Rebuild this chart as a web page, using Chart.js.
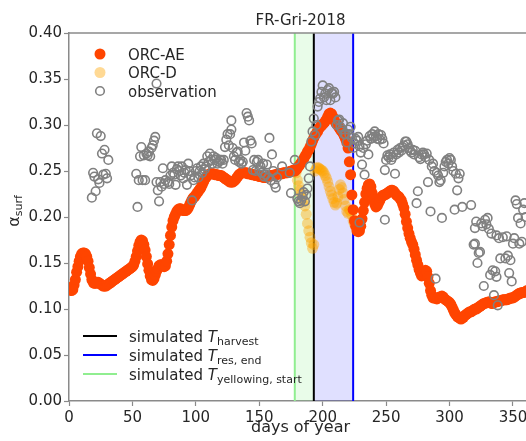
<!DOCTYPE html>
<html>
<head>
<meta charset="utf-8">
<script src="https://cdn.jsdelivr.net/npm/chart.js@4.4.1/dist/chart.umd.min.js"></script>
<style>
html,body{margin:0;padding:0;overflow:hidden;background:#fff;width:526px;height:441px}
#wrap{position:absolute;left:0;top:0;width:540px;height:441px}
</style>
</head>
<body>
<div id="wrap"><canvas id="c" width="540" height="441"></canvas></div>
<script>
// ---------------- data ----------------
const chartTitle = "FR-Gri-2018";
const xTickValues = [0, 50, 100, 150, 200, 250, 300, 350];
const yTickValues = [0, 0.05, 0.10, 0.15, 0.20, 0.25, 0.30, 0.35, 0.40];
const xAxisTitle = "days of year";

// simulated event days
const yellowStartDay = 178;
const harvestDay = 193;
const residueEndDay = 224;

// ORC-AE: one value per day, starting at day 0
const aeStartDay = 0;
const aeValues = [
0.123,0.121,0.120,0.121,0.126,0.132,0.140,0.146,0.152,0.157,
0.160,0.161,0.161,0.160,0.157,0.152,0.145,0.138,0.132,0.129,
0.128,0.128,0.129,0.129,0.128,0.127,0.126,0.125,0.125,0.125,
0.126,0.127,0.128,0.129,0.130,0.131,0.132,0.133,0.134,0.135,
0.136,0.137,0.138,0.139,0.140,0.141,0.142,0.143,0.144,0.145,
0.146,0.148,0.152,0.157,0.163,0.169,0.173,0.175,0.174,0.170,
0.164,0.157,0.149,0.142,0.136,0.132,0.131,0.133,0.137,0.141,
0.144,0.147,0.148,0.148,0.147,0.146,0.147,0.152,0.160,0.170,
0.180,0.189,0.196,0.200,0.203,0.206,0.208,0.209,0.209,0.208,
0.207,0.207,0.207,0.208,0.210,0.213,0.216,0.219,0.221,0.222,
0.224,0.226,0.228,0.230,0.232,0.235,0.238,0.241,0.243,0.245,
0.246,0.247,0.247,0.247,0.247,0.246,0.246,0.246,0.245,0.245,
0.245,0.244,0.243,0.242,0.241,0.240,0.239,0.238,0.238,0.238,
0.239,0.240,0.242,0.244,0.246,0.247,0.248,0.248,0.248,0.248,
0.248,0.247,0.247,0.247,0.246,0.246,0.246,0.245,0.245,0.245,
0.244,0.244,0.244,0.243,0.243,0.243,0.243,0.244,0.244,0.245,
0.245,0.245,0.246,0.246,0.246,0.247,0.247,0.247,0.247,0.248,
0.248,0.248,0.248,0.249,0.249,0.250,0.250,0.251,0.250,0.251,
0.253,0.255,0.257,0.259,0.261,0.263,0.266,0.268,0.271,0.273,
0.276,0.279,0.283,0.286,0.289,0.291,0.293,0.296,0.298,0.299,
0.301,0.302,0.304,0.306,0.309,0.312,0.313,0.312,0.309,0.306,
0.303,0.301,0.299,0.297,0.295,0.293,0.291,0.288,0.285,0.281,
0.275,0.260,0.246,0.224,0.208,0.196,0.190,0.185,0.184,0.185,
0.190,0.198,0.207,0.216,0.225,0.231,0.235,0.236,0.233,0.226,
0.219,0.214,0.211,0.212,0.215,0.218,0.221,0.223,0.224,0.224,
0.225,0.226,0.227,0.228,0.229,0.229,0.228,0.226,0.224,0.223,
0.222,0.220,0.218,0.214,0.210,0.203,0.195,0.188,0.182,0.177,
0.173,0.170,0.165,0.159,0.153,0.148,0.143,0.139,0.136,0.137,
0.140,0.142,0.141,0.135,0.128,0.120,0.115,0.112,0.112,0.112,
0.111,0.112,0.113,0.113,0.114,0.113,0.111,0.110,0.109,0.108,
0.107,0.105,0.102,0.099,0.096,0.094,0.092,0.091,0.090,0.089,
0.090,0.091,0.093,0.094,0.095,0.096,0.097,0.097,0.098,0.099,
0.100,0.100,0.101,0.102,0.103,0.104,0.105,0.106,0.106,0.107,
0.107,0.108,0.107,0.106,0.106,0.107,0.108,0.108,0.108,0.109,
0.109,0.109,0.110,0.110,0.110,0.110,0.111,0.111,0.112,0.112,
0.112,0.113,0.114,0.115,0.116,0.117,0.117,0.118,0.118,0.118,
0.119,0.120,0.120,0.120,0.121,0.121
];

// ORC-D where it departs from ORC-AE
const dDays = [178,179,180,181,182,183,184,185,186,187,188,189,190,191,192,193,
  194,195,196,197,198,199,200,201,202,203,204,205,206,207,208,209,210,
  211,212,213,214,215,216,217,218,219,220,221,222,223,224,225];
const dValues = [0.250,0.248,0.240,0.234,0.229,0.225,0.221,0.217,0.212,0.203,0.193,0.185,0.178,0.172,0.166,0.170,
  0.250,0.253,0.254,0.253,0.252,0.251,0.250,0.248,0.245,0.242,0.238,0.233,0.228,0.224,0.220,0.216,0.213,
  0.215,0.222,0.230,0.235,0.232,0.226,0.219,0.212,0.206,0.204,0.208,0.207,0.202,0.196,0.192];

// observations
const obsDays = [18,19,20,21,22,23,24,25,26,27,28,29,30,31,
 53,54,55,56,57,58,59,60,61,62,63,64,65,66,67,68,69,69,70,71,72,73,74,75,76,78,79,80,
 81,82,83,84,85,86,87,88,89,90,91,92,93,94,95,96,97,98,99,100,
 101,102,103,104,105,106,107,108,109,110,111,112,113,114,115,116,117,118,119,120,
 121,122,123,124,125,126,127,128,128,129,130,131,132,133,134,135,136,137,138,139,140,
 141,142,143,144,145,146,147,148,149,150,151,152,153,154,155,156,157,158,159,160,
 161,162,163,164,168,174,175,178,180,181,182,183,184,185,186,187,188,189,190,
 191,192,193,194,195,196,197,198,199,200,201,202,203,204,205,206,207,208,209,210,
 211,212,213,214,215,216,217,218,219,220,221,222,223,224,225,226,227,228,229,229,230,
 231,232,233,234,235,236,237,238,239,240,241,242,243,244,245,246,247,248,249,249,250,
 251,252,253,254,255,256,257,258,259,260,261,262,263,264,265,266,267,268,269,270,
 271,272,273,274,275,276,277,278,279,280,281,282,283,284,285,286,287,288,289,290,
 291,292,293,294,295,296,297,298,299,300,301,302,303,304,305,306,307,308,310,317,
 319,320,320,321,322,323,324,325,326,327,328,329,330,331,332,333,334,335,336,337,337,
 338,339,340,342,344,345,346,347,348,349,350,351,352,353,354,355,356,357,358,359,360];
const obsValues = [0.221,0.248,0.244,0.228,0.291,0.241,0.237,0.288,0.269,0.246,0.273,0.247,0.242,0.262,
 0.247,0.211,0.240,0.266,0.276,0.240,0.267,0.240,0.269,0.267,0.271,0.266,0.275,0.278,0.283,0.287,0.345,0.238,0.229,0.217,0.238,0.233,0.253,0.236,0.240,0.238,0.236,0.245,
 0.255,0.248,0.246,0.235,0.252,0.255,0.250,0.245,0.255,0.242,0.248,0.251,0.235,0.258,0.250,0.245,0.218,0.240,0.243,0.250,
 0.253,0.243,0.250,0.255,0.248,0.258,0.252,0.255,0.266,0.260,0.269,0.262,0.258,0.266,0.262,0.264,0.258,0.260,0.262,0.262,
 0.258,0.262,0.276,0.284,0.290,0.278,0.290,0.305,0.295,0.275,0.266,0.262,0.270,0.271,0.260,0.262,0.258,0.260,0.281,0.272,0.313,
 0.309,0.305,0.283,0.280,0.251,0.262,0.250,0.260,0.262,0.251,0.255,0.248,0.258,0.244,0.246,0.257,0.243,0.286,0.240,0.268,
 0.250,0.236,0.232,0.243,0.255,0.248,0.226,0.262,0.220,0.217,0.215,0.218,0.222,0.227,0.217,0.224,0.231,0.242,0.255,
 0.282,0.293,0.307,0.289,0.300,0.320,0.325,0.329,0.336,0.343,0.330,0.334,0.327,0.338,0.340,0.327,0.335,0.334,0.336,0.330,
 0.300,0.305,0.306,0.298,0.295,0.302,0.290,0.290,0.281,0.295,0.290,0.298,0.286,0.275,0.280,0.285,0.283,0.287,0.277,0.194,0.270,
 0.257,0.275,0.246,0.279,0.283,0.268,0.288,0.285,0.290,0.287,0.293,0.288,0.285,0.290,0.284,0.289,0.285,0.280,0.251,0.197,0.262,
 0.267,0.265,0.268,0.262,0.265,0.270,0.247,0.268,0.273,0.270,0.275,0.272,0.276,0.278,0.282,0.282,0.279,0.275,0.272,0.270,
 0.273,0.268,0.272,0.215,0.228,0.265,0.263,0.268,0.270,0.268,0.265,0.269,0.238,0.262,0.206,0.255,0.258,0.250,0.133,0.248,
 0.245,0.238,0.240,0.199,0.248,0.255,0.260,0.262,0.258,0.264,0.262,0.255,0.250,0.208,0.247,0.229,0.242,0.247,0.211,0.213,
 0.170,0.188,0.171,0.195,0.150,0.161,0.162,0.193,0.190,0.125,0.197,0.192,0.199,0.187,0.137,0.182,0.142,0.115,0.141,0.180,0.135,
 0.104,0.177,0.155,0.178,0.155,0.179,0.158,0.139,0.153,0.130,0.171,0.177,0.218,0.214,0.199,0.171,0.193,0.173,0.208,0.215,0.200];

const seriesNames = ["ORC-AE", "ORC-D", "observation"];
const eventNames = ["harvest", "res, end", "yellowing, start"];

// ---------------- build ----------------
const FONT = "'DejaVu Sans', 'Liberation Sans', sans-serif";
const aePts = aeValues.map((v, i) => ({x: aeStartDay + i, y: v}));
const dPts = dDays.map((d, i) => ({x: d, y: dValues[i]}));
const obsPts = obsDays.map((d, i) => ({x: d, y: obsValues[i]}));

const C_AE = '#ff4500', C_D = 'rgba(255,165,0,0.42)', C_OBS = '#808080';
const SPINE = '#8a8a8a';

const decor = {
  id: 'decor',
  beforeDatasetsDraw(chart) {
    const {ctx, chartArea: a, scales: {x}} = chart;
    ctx.save();
    ctx.beginPath(); ctx.rect(a.left, a.top, a.right - a.left, a.bottom - a.top); ctx.clip();
    const xs = x.getPixelForValue(yellowStartDay), xh = x.getPixelForValue(harvestDay), xr = x.getPixelForValue(residueEndDay);
    ctx.fillStyle = 'rgba(144,238,144,0.2)'; ctx.fillRect(xs, a.top, xh - xs, a.bottom - a.top);
    ctx.fillStyle = 'rgba(0,0,255,0.12)'; ctx.fillRect(xh, a.top, xr - xh, a.bottom - a.top);
    const vline = (px, col) => { ctx.strokeStyle = col; ctx.lineWidth = 2; ctx.beginPath(); ctx.moveTo(px, a.top); ctx.lineTo(px, a.bottom); ctx.stroke(); };
    vline(xs, '#90ee90'); vline(xh, '#000000'); vline(xr, '#0000ff');
    ctx.restore();
  },
  afterDraw(chart) {
    const {ctx, chartArea: a} = chart;
    ctx.save();
    // top spine
    ctx.strokeStyle = SPINE; ctx.lineWidth = 1.5;
    ctx.beginPath(); ctx.moveTo(a.left, a.top); ctx.lineTo(a.right, a.top); ctx.stroke();
    ctx.fillStyle = '#262626';
    // title
    ctx.font = '15px ' + FONT; ctx.textAlign = 'center'; ctx.textBaseline = 'alphabetic';
    ctx.fillText(chartTitle, (a.left + a.right) / 2, 25);
    // x title
    ctx.font = '16px ' + FONT;
    ctx.fillText(xAxisTitle, (a.left + a.right) / 2, 432);
    // y title: alpha_surf
    ctx.save();
    ctx.translate(19, 211); ctx.rotate(-Math.PI / 2);
    ctx.textAlign = 'left';
    ctx.font = '16px ' + FONT; const wA = ctx.measureText('α').width;
    ctx.font = '11px ' + FONT; const wS = ctx.measureText('surf').width;
    const x0 = -(wA + wS) / 2;
    ctx.font = '16px ' + FONT; ctx.fillText('α', x0, 0);
    ctx.font = '11px ' + FONT; ctx.fillText('surf', x0 + wA, 3);
    ctx.restore();

    // top legend (markers)
    ctx.textAlign = 'left'; ctx.font = '15px ' + FONT;
    const ly = [54, 72.5, 91];
    ctx.fillStyle = C_AE; ctx.beginPath(); ctx.arc(100, ly[0], 5.5, 0, Math.PI * 2); ctx.fill();
    ctx.fillStyle = C_D; ctx.beginPath(); ctx.arc(100, ly[1], 5.5, 0, Math.PI * 2); ctx.fill();
    ctx.strokeStyle = C_OBS; ctx.lineWidth = 1.6; ctx.beginPath(); ctx.arc(100, ly[2], 4.3, 0, Math.PI * 2); ctx.stroke();
    ctx.fillStyle = '#262626';
    seriesNames.forEach((n, i) => ctx.fillText(n, 128, ly[i] + 5.5));

    // bottom legend (lines)
    const by = [336, 355, 374];
    const cols = ['#000000', '#0000ff', '#90ee90'];
    by.forEach((yy, i) => {
      ctx.strokeStyle = cols[i]; ctx.lineWidth = 2;
      ctx.beginPath(); ctx.moveTo(83, yy); ctx.lineTo(117, yy); ctx.stroke();
      let tx = 129;
      ctx.fillStyle = '#262626';
      ctx.font = '15px ' + FONT; ctx.fillText('simulated ', tx, yy + 5.5); tx += ctx.measureText('simulated ').width;
      ctx.font = 'italic 15px ' + FONT; ctx.fillText('T', tx, yy + 5.5); tx += ctx.measureText('T').width;
      ctx.font = '11px ' + FONT; ctx.fillText(eventNames[i], tx, yy + 8.5);
    });
    ctx.restore();
  }
};

new Chart(document.getElementById('c'), {
  type: 'scatter',
  data: {
    datasets: [
      {label: seriesNames[0], data: aePts, backgroundColor: C_AE, borderColor: C_AE, borderWidth: 0, pointRadius: 5.5, order: 2},
      {label: seriesNames[1], data: dPts, backgroundColor: C_D, borderColor: C_D, borderWidth: 0, pointRadius: 5.5, order: 3},
      {label: seriesNames[2], data: obsPts, backgroundColor: 'rgba(0,0,0,0)', borderColor: C_OBS, borderWidth: 1.6, pointRadius: 4.3, order: 1}
    ]
  },
  options: {
    responsive: false, animation: false, devicePixelRatio: 1, events: [],
    layout: {padding: {left: 0, top: 33, right: 8, bottom: 0}},
    plugins: {legend: {display: false}, tooltip: {enabled: false}, title: {display: false}},
    scales: {
      x: {
        type: 'linear', min: 0, max: 365,
        afterBuildTicks: s => { s.ticks = xTickValues.map(v => ({value: v})); },
        afterFit: s => { s.height = 40; },
        ticks: {font: {size: 15, family: FONT}, color: '#262626', padding: 3, maxRotation: 0, autoSkip: false},
        grid: {drawOnChartArea: false, tickLength: 5, tickColor: SPINE, tickWidth: 1.2},
        border: {color: SPINE, width: 1.5},
        title: {display: false}
      },
      y: {
        type: 'linear', min: 0, max: 0.4,
        afterBuildTicks: s => { s.ticks = yTickValues.map(v => ({value: v})); },
        afterFit: s => { s.width = 69; },
        ticks: {font: {size: 15, family: FONT}, color: '#262626', padding: 2, callback: v => v.toFixed(2)},
        grid: {drawOnChartArea: false, tickLength: 5, tickColor: SPINE, tickWidth: 1.2},
        border: {color: SPINE, width: 1.5},
        title: {display: false}
      }
    }
  },
  plugins: [decor]
});
</script>
</body>
</html>
